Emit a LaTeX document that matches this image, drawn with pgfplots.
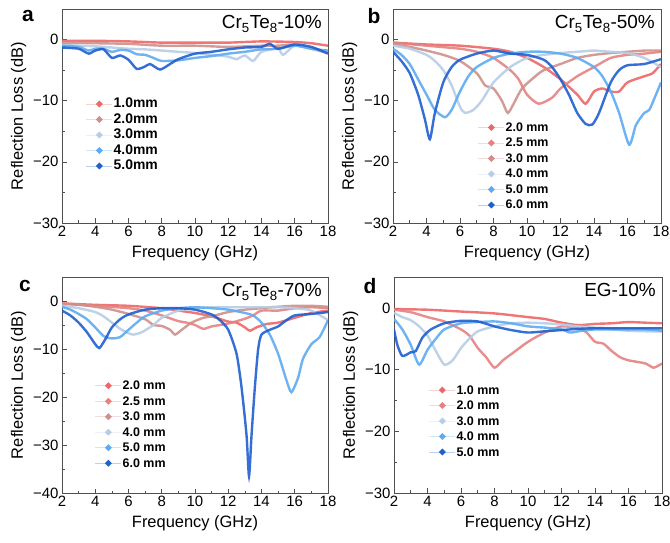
\documentclass[border=0pt]{standalone}
\usepackage{pgfplots}
\pgfplotsset{compat=1.18}
\usepackage{fontspec}
\setmainfont{Liberation Sans}
\definecolor{cRa}{HTML}{EC6767}
\definecolor{cRb}{HTML}{E58282}
\definecolor{cBr}{HTML}{CF908B}
\definecolor{cGb}{HTML}{B6CDE5}
\definecolor{cLb}{HTML}{5EABF0}
\definecolor{cBl}{HTML}{1F5FD0}
\definecolor{axgray}{HTML}{505050}
\tikzset{ttl/.style={anchor=north east, font=\fontsize{19}{19}\selectfont}}
\pgfplotsset{
 rl/.style={
  scale only axis, width=266bp, height=214bp,
  xmin=2, xmax=18, ymax=5,
  xtick={2,4,...,18}, minor x tick num=1, minor y tick num=1,
  tick align=inside, xtick pos=bottom, ytick pos=left,
  axis line style={axgray, line width=0.8bp},
  tick style={axgray, line width=0.7bp},
  major tick length=4.5bp, minor tick length=2.5bp,
  ticklabel style={font=\fontsize{15}{15}\selectfont},
  /pgf/number format/assume math mode=true,
  label style={font=\fontsize{16.5}{16.5}\selectfont},
  xlabel={Frequency (GHz)}, ylabel={Reflection Loss (dB)},
  xlabel style={yshift=-2bp},
  legend cell align=left,
  legend style={draw=none, fill=none, inner sep=0pt, row sep=1.5bp,
    font=\bfseries\fontsize{12.5}{12.5}\selectfont,
    nodes={inner sep=1bp, text height=10bp, text depth=2bp}},
  legend image code/.code={
    \draw[##1, line width=0.5bp, opacity=0.3] (0bp,0bp) -- (26bp,0bp);
    \fill[##1, opacity=1] (13bp,0bp) circle (1.8bp);},
  every axis plot/.append style={line width=2.4bp, smooth, tension=0.4, no marks, opacity=0.9},
 },
}
\begin{document}
\begin{tikzpicture}
\path[use as bounding box] (0bp,0bp) rectangle (670bp,543bp);
% ---------------- a
\begin{axis}[rl, at={(62bp,320bp)}, anchor=south west, ymin=-30,
  ytick={-30,-20,-10,0}, yticklabels={−30,−20,−10,0},
  legend style={at={(0.09,0.59)}, anchor=north west, font=\bfseries\fontsize{14}{14}\selectfont}]
\addplot[cRa] coordinates {(2,-0.2)(4,-0.2)(6,-0.3)(8,-0.5)(10,-0.5)(12,-0.5)(14,-0.3)(16,-0.4)(17,-0.6)(18,-1.0)};
\addplot[cBr] coordinates {(2,-0.5)(4,-0.6)(6,-0.7)(8,-1.0)(10,-1.0)(12,-1.2)(14,-1.0)(15,-1.0)(16,-0.8)(17,-1.5)(18,-2.2)};
\addplot[cGb] coordinates {(2,-0.9)(3,-1.0)(4,-1.1)(5,-1.3)(6,-1.5)(7,-1.6)(8,-1.8)(9,-2.0)(10,-2.2)(11,-2.5)(12,-2.8)(12.5,-3.2)(13,-2.6)(13.5,-3.5)(14,-2.0)(15,-1.5)(15.3,-2.5)(16,-1.0)(17,-1.5)(18,-2.0)};
\addplot[cLb] coordinates {(2,-1.0)(3,-1.2)(3.6,-1.8)(4,-1.5)(4.5,-1.5)(5,-2.0)(5.5,-1.7)(6,-1.8)(6.5,-2.4)(7,-2.5)(7.5,-3.0)(8,-3.5)(9,-3.4)(10,-3.0)(11,-2.7)(12,-2.3)(13,-2.0)(14,-1.6)(15,-1.5)(16,-1.0)(17,-1.5)(18,-1.8)};
\addplot[cBl] coordinates {(2,-1.3)(3,-1.5)(3.6,-2.3)(4,-1.8)(4.5,-1.6)(5,-3.0)(5.5,-2.6)(6,-3.3)(6.5,-4.8)(7,-4.4)(7.3,-4.0)(7.9,-4.9)(8.5,-4.0)(9,-3.2)(10,-2.3)(11,-2.0)(12,-1.6)(13,-1.3)(14,-1.2)(14.5,-0.7)(15,-1.5)(16,-0.8)(17,-1.2)(18,-2.3)};
\legend{1.0mm,2.0mm,3.0mm,4.0mm,5.0mm}
\node[ttl] at (rel axis cs:0.99,0.985) {Cr\textsubscript{5}Te\textsubscript{8}-10\%};
\end{axis}
% ---------------- b
\begin{axis}[rl, at={(393bp,320bp)}, anchor=south west, width=268bp, ymin=-30,
  ytick={-30,-20,-10,0}, yticklabels={−30,−20,−10,0},
  legend style={at={(0.317,0.48)}, anchor=north west}]
\addplot[cRa] coordinates {(2,-0.5)(4,-0.8)(6,-1.0)(8,-1.5)(9,-2.0)(10,-3.0)(11,-4.5)(12,-6.5)(13,-9.0)(13.5,-10.5)(14,-8.5)(14.5,-8.0)(15,-8.5)(15.5,-8.5)(16,-7.0)(17,-6.0)(17.5,-5.5)(18,-4.0)};
\addplot[cRb] coordinates {(2,-0.5)(4,-1.0)(6,-1.5)(7,-2.0)(8,-3.0)(9,-5.0)(9.5,-6.5)(10,-9.0)(10.7,-10.5)(11.5,-9.5)(12,-8.0)(13,-6.0)(14,-4.5)(15,-3.0)(16,-2.5)(17,-2.3)(18,-2.0)};
\addplot[cBr] coordinates {(2,-0.8)(3,-1.2)(4,-1.8)(5,-2.5)(6,-3.5)(7,-5.5)(7.5,-7.5)(8,-8.0)(8.5,-10.0)(8.85,-12.0)(9.2,-10.5)(9.7,-8.0)(10.5,-6.0)(11,-5.0)(12,-4.0)(13,-3.0)(14,-2.5)(15,-2.2)(16,-2.0)(17,-1.8)(18,-1.8)};
\addplot[cGb] coordinates {(2,-1.0)(3,-1.5)(4,-2.5)(4.5,-3.5)(5,-5.0)(5.5,-7.5)(6,-11.0)(6.3,-12.0)(6.8,-11.5)(7.3,-10.0)(8,-7.0)(9,-4.5)(10,-3.0)(11,-2.5)(12,-2.2)(13,-2.0)(14,-1.8)(15,-2.0)(16,-2.2)(17,-3.0)(18,-4.5)};
\addplot[cLb] coordinates {(2,-1.5)(2.5,-2.5)(3,-4.0)(3.5,-6.5)(4,-9.0)(4.5,-11.5)(5.1,-12.7)(5.5,-11.5)(6,-8.5)(6.5,-6.0)(7,-4.5)(8,-3.0)(9,-2.3)(10,-2.0)(11,-2.0)(12,-2.3)(13,-3.0)(14,-4.5)(14.5,-6.0)(15,-8.5)(15.5,-12.0)(16.1,-17.2)(16.5,-14.0)(17,-12.0)(17.3,-11.5)(17.7,-9.0)(18,-7.0)};
\addplot[cBl] coordinates {(2,-2.0)(2.5,-3.5)(3,-5.5)(3.5,-9.0)(3.9,-13.0)(4.2,-16.3)(4.5,-12.0)(5,-7.0)(5.5,-4.5)(6,-3.3)(7,-2.3)(8,-1.8)(9,-2.3)(10,-2.5)(11,-3.3)(11.5,-4.5)(12,-6.5)(12.5,-9.0)(13,-12.0)(13.5,-13.8)(13.9,-13.9)(14.3,-12.0)(15,-7.0)(15.5,-5.0)(16,-4.2)(17,-4.0)(18,-3.2)};
\legend{2.0 mm,2.5 mm,3.0 mm,4.0 mm,5.0 mm,6.0 mm}
\node[ttl] at (rel axis cs:0.99,0.985) {Cr\textsubscript{5}Te\textsubscript{8}-50\%};
\end{axis}
% ---------------- c
\begin{axis}[rl, at={(62bp,50bp)}, anchor=south west, height=216bp, ymin=-40,
  ytick={-40,-30,-20,-10,0}, yticklabels={−40,−30,−20,−10,0},
  legend style={at={(0.124,0.53)}, anchor=north west}]
\addplot[cRa] coordinates {(2,-0.5)(4,-0.8)(6,-1.0)(8,-1.5)(9,-2.0)(10,-2.5)(11,-3.2)(12,-4.3)(12.5,-4.5)(13,-5.5)(13.3,-6.2)(13.7,-5.5)(14.3,-4.8)(15,-4.5)(16,-3.5)(17,-2.5)(18,-2.0)};
\addplot[cRb] coordinates {(2,-0.5)(4,-1.0)(6,-1.5)(7,-2.0)(8,-3.0)(9,-4.2)(9.5,-4.5)(10,-5.0)(10.5,-5.8)(11,-5.3)(12,-4.7)(13,-3.7)(13.5,-3.0)(14,-2.0)(15,-2.0)(16,-1.5)(17,-1.3)(18,-1.5)};
\addplot[cBr] coordinates {(2,-0.6)(3,-0.8)(4,-1.2)(5,-1.8)(6,-2.7)(7,-3.8)(7.5,-5.0)(8,-5.2)(8.5,-6.0)(8.8,-7.0)(9.2,-6.0)(9.8,-4.5)(10.5,-3.5)(11,-3.2)(12,-2.3)(13,-1.8)(14,-1.5)(15,-1.2)(16,-1.0)(17,-1.0)(18,-1.2)};
\addplot[cGb] coordinates {(2,-1.0)(3,-1.5)(4,-2.3)(4.5,-3.2)(5,-4.5)(5.5,-5.8)(6,-6.7)(6.3,-7.0)(6.8,-6.5)(7.5,-5.0)(8,-3.5)(9,-2.0)(10,-1.5)(11,-1.3)(12,-1.3)(13,-1.3)(14,-1.3)(15,-1.3)(16,-1.5)(17,-2.0)(18,-4.0)};
\addplot[cLb] coordinates {(2,-1.2)(2.5,-1.8)(3,-2.7)(3.5,-3.8)(4,-5.5)(4.5,-7.3)(5,-7.8)(5.5,-7.5)(6,-6.0)(6.5,-4.5)(7,-3.2)(8,-2.0)(9,-1.5)(10,-1.3)(11,-1.5)(12,-1.8)(13,-2.5)(13.5,-3.0)(14,-4.5)(14.5,-7.0)(15,-11.0)(15.5,-16.5)(15.8,-19.0)(16.2,-16.0)(16.5,-12.0)(17,-9.0)(17.5,-7.5)(18,-4.0)};
\addplot[cBl] coordinates {(2,-2.0)(2.5,-3.0)(3,-4.5)(3.5,-6.5)(4,-9.0)(4.25,-9.8)(4.6,-8.0)(5,-5.5)(5.5,-3.8)(6,-2.8)(7,-1.8)(8,-1.5)(9,-1.5)(10,-1.8)(11,-2.8)(11.5,-4.0)(12,-6.0)(12.5,-11.0)(12.8,-18.0)(13.1,-28.0)(13.25,-36.5)(13.4,-28.0)(13.6,-18.0)(13.8,-10.0)(14,-7.0)(14.5,-6.0)(15,-5.3)(15.5,-4.0)(16,-3.0)(17,-2.7)(18,-2.3)};
\legend{2.0 mm,2.5 mm,3.0 mm,4.0 mm,5.0 mm,6.0 mm}
\node[ttl] at (rel axis cs:0.99,0.985) {Cr\textsubscript{5}Te\textsubscript{8}-70\%};
\end{axis}
% ---------------- d
\begin{axis}[rl, at={(394bp,50bp)}, anchor=south west, width=268bp, height=216bp, ymin=-30,
  ytick={-30,-20,-10,0}, yticklabels={−30,−20,−10,0},
  legend style={at={(0.13,0.51)}, anchor=north west}]
\addplot[cRa] coordinates {(2,-0.2)(4,-0.3)(6,-0.6)(8,-0.9)(10,-1.5)(11,-1.8)(12,-2.4)(13,-2.8)(14,-2.6)(15,-2.5)(16,-2.3)(17,-2.4)(18,-2.5)};
\addplot[cRb] coordinates {(2,-0.3)(3,-0.7)(4,-1.5)(5,-2.2)(6,-3.5)(6.5,-4.5)(7,-6.5)(7.5,-8.0)(8,-9.7)(8.5,-8.5)(9,-7.5)(10,-5.5)(11,-4.0)(12,-3.0)(13,-3.3)(13.5,-4.0)(14,-5.5)(14.5,-5.8)(15,-7.0)(15.5,-8.0)(16,-8.5)(17,-9.0)(17.5,-9.7)(18,-9.0)};
\addplot[cGb] coordinates {(2,-0.8)(2.5,-1.5)(3,-2.0)(3.5,-3.0)(4,-4.5)(4.5,-7.0)(5,-9.2)(5.5,-8.5)(6,-6.5)(6.5,-5.0)(7,-3.8)(8,-3.0)(9,-2.5)(10,-2.4)(11,-2.5)(12,-2.7)(13,-3.0)(14,-3.2)(15,-3.5)(16,-3.7)(17,-3.8)(18,-3.8)};
\addplot[cLb] coordinates {(2,-1.8)(2.5,-3.5)(3,-6.0)(3.5,-9.2)(4,-6.8)(4.5,-5.0)(5,-3.5)(6,-2.5)(7,-2.3)(8,-2.2)(9,-2.5)(10,-3.0)(11,-3.2)(12,-3.5)(12.5,-4.0)(13,-3.8)(14,-3.5)(15,-3.5)(16,-3.5)(17,-3.5)(18,-3.7)};
\addplot[cBl] coordinates {(2,-3.5)(2.2,-6.0)(2.5,-7.8)(3,-7.2)(3.3,-7.0)(3.7,-4.8)(4.2,-3.5)(5,-2.5)(6,-2.1)(7,-2.2)(8,-3.0)(9,-3.6)(10,-4.0)(11,-3.8)(12,-3.6)(13,-3.4)(14,-3.3)(15,-3.3)(16,-3.3)(17,-3.3)(18,-3.3)};
\legend{1.0 mm,2.0 mm,3.0 mm,4.0 mm,5.0 mm}
\node[ttl] at (rel axis cs:0.99,0.985) {EG-10\%};
\end{axis}
% panel letters
\node[font=\bfseries\fontsize{21}{21}\selectfont] at (28bp,527bp) {a};
\node[font=\bfseries\fontsize{21}{21}\selectfont] at (374bp,527bp) {b};
\node[font=\bfseries\fontsize{21}{21}\selectfont] at (25bp,257bp) {c};
\node[font=\bfseries\fontsize{21}{21}\selectfont] at (370bp,257bp) {d};
\end{tikzpicture}
\end{document}
